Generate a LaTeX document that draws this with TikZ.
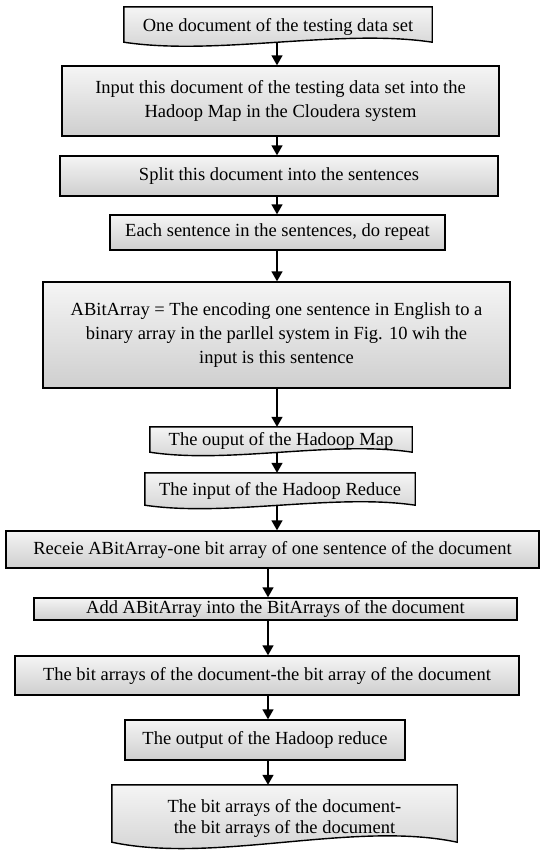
\documentclass[tikz,border=0pt]{standalone}
\usepackage{fontspec}
\setmainfont{Liberation Serif}
\usetikzlibrary{arrows.meta,calc}
\pgfdeclarelayer{bg}
\pgfsetlayers{bg,main}
\newcommand\flowfont{\fontsize{18.5}{24}\selectfont}
\tikzset{
  boxfill/.style={top color=gray!8, bottom color=gray!38, draw=black, line width=1.4pt},
  procbox/.style={boxfill, rectangle, inner sep=0pt, align=center, font=\flowfont},
  doctext/.style={rectangle, inner sep=0pt, align=center, font=\flowfont},
  flowarrow/.style={line width=1.4pt, -{Triangle[width=11pt,length=10pt]}},
}
% document symbol: straight top and sides, wavy bottom edge whose midline
% sits #2 above the node's south side; (#1w) marks that midline
\newcommand\docshape[3]{%
  \coordinate (#1w) at ($(#1.south)+(0,-#2)$);
  \begin{pgfonlayer}{bg}
  \path[boxfill] ($(#1.south west)+(0,-#2)$) -- (#1.north west) -- (#1.north east) -- ($(#1.south east)+(0,-#2)$)
    .. controls ($(#1.south east)!0.3!(#1.south west)+(0,-#2-#3)$) and ($(#1.south east)!0.7!(#1.south west)+(0,-#2+#3)$) .. ($(#1.south west)+(0,-#2)$) -- cycle;
  \end{pgfonlayer}}
\begin{document}
\begin{tikzpicture}[x=1pt,y=-1pt]
\useasboundingbox (0,0) rectangle (545,854);
\coordinate (ax) at (277,0);
\coordinate (bx) at (268,0);

\node[doctext, minimum width=308pt, minimum height=40pt] (d1) at (278,27) {One document of the testing data set};
\docshape{d1}{5}{14}
\node[procbox, minimum width=437pt, minimum height=70pt] (b2) at (280.5,101) {Input this document of the testing data set into the\\Hadoop Map in the Cloudera system};
\node[procbox, minimum width=438pt, minimum height=40pt] (b3) at (279,176) {Split this document into the sentences};
\node[procbox, minimum width=335pt, minimum height=35pt] (b4) at (277.5,232.5) {Each sentence in the sentences, do repeat};
\node[procbox, minimum width=467pt, minimum height=106pt] (b5) at (276.5,335) {ABitArray = The encoding one sentence in English to a\\binary array in the parllel system in Fig. 10 wih the\\input is this sentence};
\node[doctext, minimum width=262pt, minimum height=27pt] (d6) at (281,440.5) {The ouput of the Hadoop Map};
\docshape{d6}{2}{12}
\node[doctext, minimum width=270pt, minimum height=36pt] (d7) at (280,491) {The input of the Hadoop Reduce};
\docshape{d7}{4}{12}
\node[procbox, minimum width=533pt, minimum height=37pt] (b8) at (272.5,549.5) {Receie ABitArray-one bit array of one sentence of the document};
\node[procbox, minimum width=483pt, minimum height=22pt] (b9) at (275.5,609) {Add ABitArray into the BitArrays of the document};
\node[procbox, minimum width=504pt, minimum height=39pt] (b10) at (267,675.5) {The bit arrays of the document-the bit array of the document};
\node[procbox, minimum width=280pt, minimum height=40pt] (b11) at (265,740) {The output of the Hadoop reduce};
\node[doctext, minimum width=345pt, minimum height=67pt, font=\fontsize{18.5}{21.5}\selectfont] (d12) at (284.5,818.5) {The bit arrays of the document-\\the bit arrays of the document};
\docshape{d12}{10}{22}

\draw[flowarrow] (d1w -| ax) -- (b2.north -| ax);
\draw[flowarrow] (b2.south -| ax) -- (b3.north -| ax);
\draw[flowarrow] (b3.south -| ax) -- (b4.north -| ax);
\draw[flowarrow] (b4.south -| ax) -- (b5.north -| ax);
\draw[flowarrow] (b5.south -| ax) -- (d6.north -| ax);
\draw[flowarrow] (d6w -| ax) -- (d7.north -| ax);
\draw[flowarrow] (d7w -| ax) -- (b8.north -| ax);
\draw[flowarrow] (b8.south -| bx) -- (b9.north -| bx);
\draw[flowarrow] (b9.south -| bx) -- (b10.north -| bx);
\draw[flowarrow] (b10.south -| bx) -- (b11.north -| bx);
\draw[flowarrow] (b11.south -| bx) -- (d12.north -| bx);
\end{tikzpicture}
\end{document}
